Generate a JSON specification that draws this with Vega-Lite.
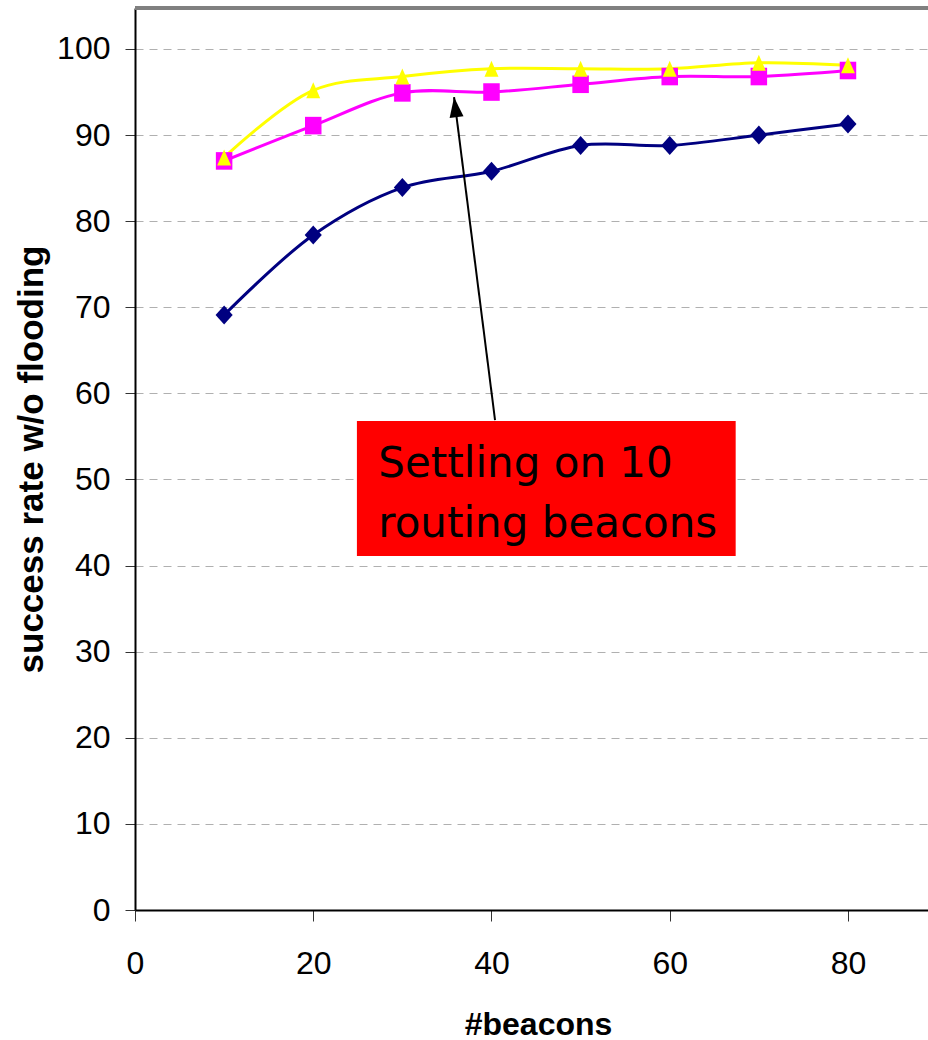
{
  "$schema": "https://vega.github.io/schema/vega-lite/v6.json",
  "width": 793,
  "height": 902,
  "autosize": "none",
  "padding": {"left": 135, "top": 8, "right": 0, "bottom": 130},
  "background": "#ffffff",
  "config": {"view": {"stroke": null}},
  "datasets": {
    "series": [
      {"beacons": 10, "rate": 69.1, "series": "A"},
      {"beacons": 20, "rate": 78.4, "series": "A"},
      {"beacons": 30, "rate": 83.9, "series": "A"},
      {"beacons": 40, "rate": 85.8, "series": "A"},
      {"beacons": 50, "rate": 88.8, "series": "A"},
      {"beacons": 60, "rate": 88.8, "series": "A"},
      {"beacons": 70, "rate": 90.0, "series": "A"},
      {"beacons": 80, "rate": 91.3, "series": "A"},
      {"beacons": 10, "rate": 87.0, "series": "B"},
      {"beacons": 20, "rate": 91.1, "series": "B"},
      {"beacons": 30, "rate": 94.9, "series": "B"},
      {"beacons": 40, "rate": 95.0, "series": "B"},
      {"beacons": 50, "rate": 95.9, "series": "B"},
      {"beacons": 60, "rate": 96.8, "series": "B"},
      {"beacons": 70, "rate": 96.8, "series": "B"},
      {"beacons": 80, "rate": 97.5, "series": "B"},
      {"beacons": 10, "rate": 87.4, "series": "C"},
      {"beacons": 20, "rate": 95.2, "series": "C"},
      {"beacons": 30, "rate": 96.8, "series": "C"},
      {"beacons": 40, "rate": 97.7, "series": "C"},
      {"beacons": 50, "rate": 97.7, "series": "C"},
      {"beacons": 60, "rate": 97.7, "series": "C"},
      {"beacons": 70, "rate": 98.4, "series": "C"},
      {"beacons": 80, "rate": 98.1, "series": "C"}
    ],
    "box": [{"x1": 24.9, "x2": 67.4, "y1": 41.1, "y2": 56.8}],
    "label": [
      {"x": 27.3, "y": 50.3, "text": "Settling on 10"},
      {"x": 27.3, "y": 43.3, "text": "routing beacons"}
    ],
    "arrow": [{"x1": 40.4, "y1": 56.9, "x2": 35.8, "y2": 94.4}]
  },
  "layer": [
    {
      "data": {"name": "series"},
      "mark": {"type": "rule", "color": "#808080", "strokeWidth": 3},
      "encoding": {
        "x": {"datum": 0, "type": "quantitative", "scale": {"domain": [0, 88.98], "nice": false, "zero": false}},
        "x2": {"datum": 88.98},
        "y": {"datum": 104.76, "type": "quantitative", "scale": {"domain": [0, 104.76], "nice": false, "zero": false}}
      }
    },
    {
      "data": {"name": "series"},
      "mark": {"type": "line", "interpolate": "catmull-rom", "strokeWidth": 3},
      "encoding": {
        "x": {
          "field": "beacons", "type": "quantitative",
          "scale": {"domain": [0, 88.98], "nice": false, "zero": false},
          "axis": {
            "values": [0, 20, 40, 60, 80],
            "title": "#beacons",
            "titleFont": "Liberation Sans", "titleFontSize": 32, "titleFontWeight": "bold", "titleColor": "#000",
            "titleBaseline": "alphabetic", "titleY": 124, "titleX": 403, "titleAnchor": "middle", "titleAlign": "center",
            "labelFont": "Liberation Sans", "labelFontSize": 32, "labelColor": "#000",
            "labelBaseline": "alphabetic", "labelPadding": 52, "labelFlush": false,
            "domainColor": "#000", "domainWidth": 2,
            "tickColor": "#333", "tickSize": 11, "tickWidth": 1,
            "grid": false
          }
        },
        "y": {
          "field": "rate", "type": "quantitative",
          "scale": {"domain": [0, 104.76], "nice": false, "zero": false},
          "axis": {
            "values": [0, 10, 20, 30, 40, 50, 60, 70, 80, 90, 100],
            "title": "success rate w/o flooding",
            "titleFont": "Liberation Sans", "titleFontSize": 35, "titleFontWeight": "bold", "titleColor": "#000",
            "titleAngle": -90, "titleBaseline": "middle", "titleX": -104, "titleY": 451, "titleAlign": "center",
            "labelFont": "Liberation Sans", "labelFontSize": 32, "labelColor": "#000",
            "labelBaseline": "alphabetic", "labelOffset": 10, "labelPadding": 15,
            "domainColor": "#000", "domainWidth": 2,
            "tickColor": "#333", "tickSize": 10, "tickWidth": 1,
            "grid": true, "gridColor": "#b0b0b0", "gridDash": [8, 6], "gridWidth": 1
          }
        },
        "color": {
          "field": "series", "type": "nominal",
          "scale": {"domain": ["A", "B", "C"], "range": ["#000080", "#ff00ff", "#ffff00"]},
          "legend": null
        },
        "order": {"field": "beacons"}
      }
    },
    {
      "data": {"name": "series"},
      "mark": {"type": "point", "filled": true, "opacity": 1},
      "encoding": {
        "x": {"field": "beacons", "type": "quantitative"},
        "y": {"field": "rate", "type": "quantitative"},
        "color": {"field": "series", "type": "nominal", "legend": null},
        "shape": {
          "field": "series", "type": "nominal",
          "scale": {"domain": ["A", "B", "C"], "range": ["M0,-1L0.9,0L0,1L-0.9,0Z", "M-0.94,-1L0.94,-1L0.94,1L-0.94,1Z", "M0,-1L0.87,1L-0.87,1Z"]},
          "legend": null
        },
        "size": {
          "field": "series", "type": "nominal",
          "scale": {"domain": ["A", "B", "C"], "range": [361, 256, 380]},
          "legend": null
        }
      }
    },
    {
      "data": {"name": "box"},
      "mark": {"type": "rect", "color": "#ff0000", "opacity": 1},
      "encoding": {
        "x": {"field": "x1", "type": "quantitative"},
        "x2": {"field": "x2"},
        "y": {"field": "y1", "type": "quantitative"},
        "y2": {"field": "y2"}
      }
    },
    {
      "data": {"name": "label"},
      "mark": {"type": "text", "font": "DejaVu Sans", "fontSize": 42, "align": "left", "baseline": "alphabetic", "color": "#000"},
      "encoding": {
        "x": {"field": "x", "type": "quantitative"},
        "y": {"field": "y", "type": "quantitative"},
        "text": {"field": "text"}
      }
    },
    {
      "data": {"name": "arrow"},
      "mark": {"type": "rule", "color": "#000", "strokeWidth": 2},
      "encoding": {
        "x": {"field": "x1", "type": "quantitative"},
        "y": {"field": "y1", "type": "quantitative"},
        "x2": {"field": "x2"},
        "y2": {"field": "y2"}
      }
    },
    {
      "data": {"name": "arrow"},
      "mark": {"type": "point", "filled": true, "opacity": 1, "color": "#000", "shape": "M0,0L0.35,1L-0.35,1Z", "size": 1600, "angle": 352.8},
      "encoding": {
        "x": {"field": "x2", "type": "quantitative"},
        "y": {"field": "y2", "type": "quantitative"}
      }
    }
  ]
}
